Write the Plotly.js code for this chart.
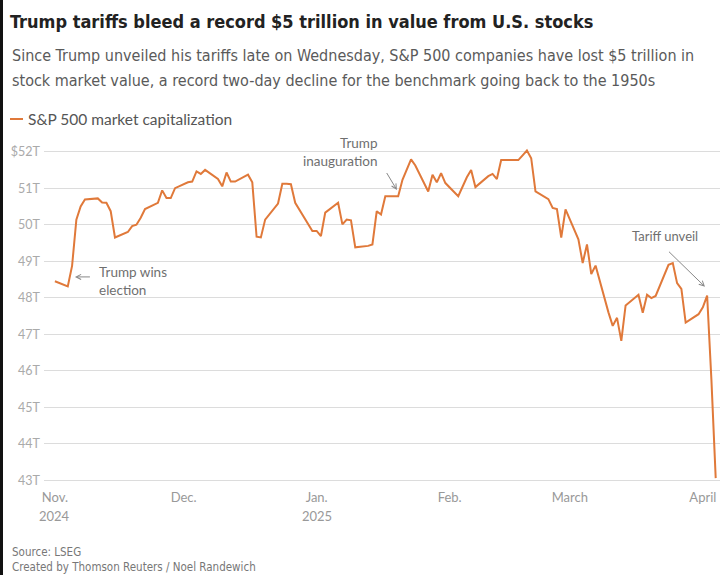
<!DOCTYPE html>
<html>
<head>
<meta charset="utf-8">
<script src="https://cdn.plot.ly/plotly-3.0.1.min.js"></script>
<style>
  html, body { margin: 0; padding: 0; background: #fff; }
  #wrap { position: relative; width: 723px; height: 575px; overflow: hidden; }
  #chart { width: 723px; height: 575px; }
  #edgeL { position: absolute; left: 0; top: 0; width: 3px; height: 575px; background: #111; }
</style>
</head>
<body>
<div id="wrap"><div id="chart"></div><div id="edgeL"></div></div>
<script>
// ---- Data: S&P 500 market capitalization (trillions of US$) ----
const dates = [
  '2024-11-01','2024-11-04','2024-11-05','2024-11-06','2024-11-07','2024-11-08',
  '2024-11-11','2024-11-12','2024-11-13','2024-11-14','2024-11-15',
  '2024-11-18','2024-11-19','2024-11-20','2024-11-21','2024-11-22',
  '2024-11-25','2024-11-26','2024-11-27','2024-11-28','2024-11-29',
  '2024-12-02','2024-12-03','2024-12-04','2024-12-05','2024-12-06',
  '2024-12-09','2024-12-10','2024-12-11','2024-12-12','2024-12-13',
  '2024-12-16','2024-12-17','2024-12-18','2024-12-19','2024-12-20',
  '2024-12-23','2024-12-24','2024-12-25','2024-12-26','2024-12-27',
  '2024-12-30','2024-12-31','2025-01-01','2025-01-02','2025-01-03',
  '2025-01-06','2025-01-07','2025-01-08','2025-01-09','2025-01-10',
  '2025-01-13','2025-01-14','2025-01-15','2025-01-16','2025-01-17',
  '2025-01-20','2025-01-21','2025-01-22','2025-01-23','2025-01-24',
  '2025-01-27','2025-01-28','2025-01-29','2025-01-30','2025-01-31',
  '2025-02-03','2025-02-04','2025-02-05','2025-02-06','2025-02-07',
  '2025-02-10','2025-02-11','2025-02-12','2025-02-13','2025-02-14',
  '2025-02-17','2025-02-18','2025-02-19','2025-02-20','2025-02-21',
  '2025-02-24','2025-02-25','2025-02-26','2025-02-27','2025-02-28',
  '2025-03-03','2025-03-04','2025-03-05','2025-03-06','2025-03-07',
  '2025-03-10','2025-03-11','2025-03-12','2025-03-13','2025-03-14',
  '2025-03-17','2025-03-18','2025-03-19','2025-03-20','2025-03-21',
  '2025-03-24','2025-03-25','2025-03-26','2025-03-27','2025-03-28',
  '2025-03-31','2025-04-01','2025-04-02','2025-04-03','2025-04-04'
];
const marketCap = [
  48.45, 48.31, 48.87, 50.14, 50.50, 50.69,
  50.72, 50.61, 50.60, 50.37, 49.65,
  49.80, 49.96, 50.00, 50.19, 50.43,
  50.60, 50.94, 50.73, 50.73, 51.00,
  51.16, 51.18, 51.46, 51.39, 51.50,
  51.25, 51.05, 51.43, 51.18, 51.18,
  51.37, 51.16, 49.67, 49.65, 50.14,
  50.58, 51.12, 51.12, 51.11, 50.60,
  50.05, 49.83, 49.83, 49.69, 50.33,
  50.60, 50.01, 50.14, 50.12, 49.38,
  49.42, 49.46, 50.37, 50.28, 50.78,
  50.78, 51.23, 51.52, 51.79, 51.62,
  50.91, 51.37, 51.16, 51.41, 51.14,
  50.78, 51.05, 51.30, 51.50, 51.03,
  51.33, 51.39, 51.25, 51.77, 51.77,
  51.77, 51.90, 52.03, 51.82, 50.91,
  50.70, 50.46, 50.43, 49.65, 50.42,
  49.60, 48.95, 49.46, 48.65, 48.88,
  47.60, 47.23, 47.45, 46.82, 47.79,
  48.08, 47.59, 48.08, 47.99, 48.05,
  48.90, 48.95, 48.40, 48.24, 47.32,
  47.55, 47.74, 48.06, 45.75, 43.06
];
const yTickVals = [43, 44, 45, 46, 47, 48, 49, 50, 51, 52];
const yTickText = ['43T','44T','45T','46T','47T','48T','49T','50T','51T','$52T'];
const xTickVals = ['2024-11-01','2024-12-01','2025-01-01','2025-02-01','2025-03-01','2025-04-01'];
const xTickText = ['Nov.','Dec.','Jan.','Feb.','March','April'];
const yearVals = ['2024-11-01','2025-01-01'];
const yearText = ['2024','2025'];
const seriesName = 'S&P 500 market capitalization';

// ---- Layout helpers ----
const W = 723, H = 575;
const M = {l: 44, r: 3, t: 148, b: 91};
const PW = W - M.l - M.r, PH = H - M.t - M.b;
const px = x => (x - M.l) / PW;          // pixel x -> paper x
const py = y => (H - M.b - y) / PH;      // pixel y -> paper y

const ORANGE = '#e0793a';
const NARROW = '"DejaVu Sans Condensed", "Liberation Sans Narrow", sans-serif';
const BODY = 'Lato, "Noto Sans", sans-serif';
const grey = '#6f6f6f';

const trace = {
  type: 'scatter', mode: 'lines', x: dates, y: marketCap, name: seriesName,
  line: {color: ORANGE, width: 2, shape: 'linear'},
  hoverinfo: 'skip', showlegend: false
};

const annotations = [
  {xref:'paper', yref:'paper', x: px(10), y: py(55), xanchor:'left', yanchor:'middle', showarrow:false,
   text:'Since Trump unveiled his tariffs late on Wednesday, S&P 500 companies have lost $5 trillion in',
   font:{family: NARROW, size: 16, color:'#5a5a5a'}},
  {xref:'paper', yref:'paper', x: px(10), y: py(80), xanchor:'left', yanchor:'middle', showarrow:false,
   text:'stock market value, a record two-day decline for the benchmark going back to the 1950s',
   font:{family: NARROW, size: 16, color:'#5a5a5a'}},
  {xref:'paper', yref:'paper', x: px(26), y: py(119), xanchor:'left', yanchor:'middle', showarrow:false,
   text: seriesName, font:{family: BODY, size: 15.5, color:'#555'}},
  {xref:'paper', yref:'paper', x: px(10), y: py(552), xanchor:'left', yanchor:'middle', showarrow:false,
   text:'Source: LSEG', font:{family: NARROW, size: 11.5, color:'#777'}},
  {xref:'paper', yref:'paper', x: px(10), y: py(567), xanchor:'left', yanchor:'middle', showarrow:false,
   text:'Created by Thomson Reuters / Noel Randewich', font:{family: NARROW, size: 11.5, color:'#777'}},
  // chart notes
  {x:'2024-11-10 19:00', y:48.46, xanchor:'left', yanchor:'middle', align:'left', showarrow:false,
   text:'Trump wins<br>election', font:{family: BODY, size: 13.5, color: grey}},
  {x:'2024-11-05 16:00', y:48.57, text:' ', showarrow:true, ax:17, ay:0, arrowhead:5, arrowsize:1, arrowwidth:1,
   arrowcolor:'#888', font:{size:2}},
  {x:'2025-01-15 18:00', y:51.99, xanchor:'right', yanchor:'middle', align:'right', showarrow:false,
   text:'Trump<br>inauguration', font:{family: BODY, size: 13.5, color: grey}},
  {x:'2025-01-19 17:00', y:50.95, text:' ', showarrow:true, ax:-12, ay:-20, arrowhead:5, arrowsize:1, arrowwidth:1,
   arrowcolor:'#888', font:{size:2}},
  {x:'2025-03-23 05:00', y:49.69, xanchor:'center', yanchor:'middle', showarrow:false,
   text:'Tariff unveil', font:{family: BODY, size: 13, color: grey}},
  {x:'2025-04-01 12:00', y:48.3, text:' ', showarrow:true, ax:-38, ay:-37, arrowhead:5, arrowsize:1, arrowwidth:1,
   arrowcolor:'#888', font:{size:2}}
];
yearVals.forEach((d, i) => annotations.push({
  x: d, xref:'x', yref:'paper', y: py(516), xanchor:'center', yanchor:'middle', showarrow:false,
  text: yearText[i], font:{family: BODY, size: 13, color:'#999'}
}));

const shapes = [
  {type:'line', xref:'paper', yref:'paper', x0: px(10), x1: px(23), y0: py(119), y1: py(119),
   line:{color: ORANGE, width: 2}}
];

const layout = {
  width: W, height: H, margin: M,
  paper_bgcolor:'#fff', plot_bgcolor:'#fff',
  showlegend: false,
  title: {text:'<b>Trump tariffs bleed a record $5 trillion in value from U.S. stocks</b>',
          xref:'container', yref:'container', x: 10/W, xanchor:'left', y: 1 - 22/H, yanchor:'middle',
          font:{family: NARROW, size: 18, color:'#222'}},
  xaxis: {type:'date', range:['2024-10-29 11:00','2025-04-05 00:00'],
          tickmode:'array', tickvals: xTickVals, ticktext: xTickText,
          showgrid:false, zeroline:false, showline:false, ticks:'',
          ticklabelstandoff: 4,
          tickfont:{family: BODY, size: 13, color:'#999'}, fixedrange:true},
  yaxis: {range:[42.9, 52.1], tickmode:'array', tickvals: yTickVals, ticktext: yTickText,
          showgrid:true, gridcolor:'#dcdcdc', gridwidth:1, zeroline:false, showline:false, ticks:'',
          ticklabelstandoff: 3,
          tickfont:{family: BODY, size: 12.5, color:'#aaa'}, fixedrange:true},
  annotations, shapes
};

Plotly.newPlot('chart', [trace], layout, {displayModeBar:false, staticPlot:true});
</script>
</body>
</html>
